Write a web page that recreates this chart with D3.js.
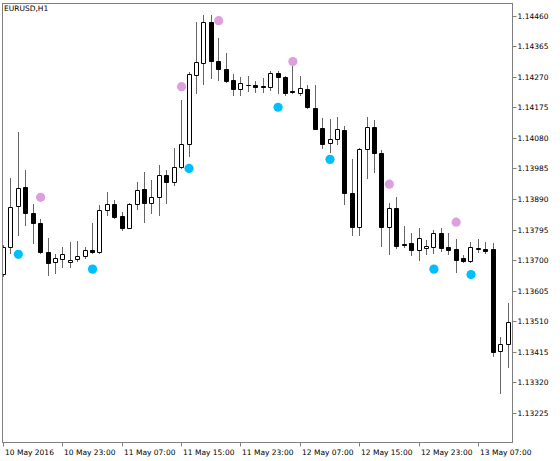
<!DOCTYPE html>
<html><head><meta charset="utf-8">
<script src="https://cdn.jsdelivr.net/npm/d3@7"></script>
<style>html,body{margin:0;padding:0;background:#fff}svg{display:block}</style>
</head><body><svg id="c" width="560" height="461"></svg>
<script>
const chartTitle = "EURUSD,H1";
const openP = [1.13657,1.13740,1.13868,1.13927,1.13847,1.13815,1.13726,1.13693,1.13702,1.13693,1.13702,1.13713,1.13731,1.13726,1.13856,1.13874,1.13837,1.13801,1.13873,1.13920,1.13878,1.13895,1.13964,1.13944,1.13990,1.14060,1.14275,1.14311,1.14439,1.14320,1.14293,1.14260,1.14231,1.14243,1.14244,1.14241,1.14239,1.14280,1.14268,1.14224,1.14220,1.14231,1.14173,1.14110,1.14063,1.14075,1.14104,1.13909,1.13804,1.14044,1.14113,1.14034,1.13804,1.13861,1.13750,1.13754,1.13730,1.13737,1.13742,1.13783,1.13740,1.13734,1.13706,1.13697,1.13739,1.13734,1.13734,1.13419,1.13439];
const highP = [1.13747,1.13955,1.14099,1.13980,1.13874,1.13828,1.13769,1.13719,1.13741,1.13757,1.13760,1.13741,1.13815,1.13871,1.13913,1.13887,1.13850,1.13878,1.13942,1.13975,1.13949,1.13996,1.13980,1.14047,1.14197,1.14285,1.14441,1.14462,1.14462,1.14389,1.14343,1.14278,1.14268,1.14272,1.14256,1.14265,1.14288,1.14289,1.14272,1.14306,1.14272,1.14244,1.14244,1.14141,1.14138,1.14144,1.14117,1.14014,1.14049,1.14146,1.14135,1.14042,1.13878,1.13897,1.13806,1.13783,1.13801,1.13762,1.13794,1.13799,1.13783,1.13765,1.13716,1.13757,1.13765,1.13757,1.13754,1.13460,1.13566];
const lowP = [1.13651,1.13722,1.13778,1.13809,1.13753,1.13723,1.13654,1.13660,1.13680,1.13680,1.13697,1.13707,1.13723,1.13723,1.13840,1.13831,1.13794,1.13799,1.13858,1.13819,1.13845,1.13840,1.13877,1.13933,1.13985,1.14023,1.14218,1.14247,1.14265,1.14260,1.14254,1.14213,1.14213,1.14225,1.14223,1.14223,1.14228,1.14218,1.14213,1.14220,1.14213,1.14173,1.14106,1.14047,1.14037,1.14061,1.13874,1.13778,1.13778,1.13954,1.13975,1.13745,1.13719,1.13737,1.13742,1.13716,1.13700,1.13719,1.13723,1.13729,1.13719,1.13664,1.13695,1.13695,1.13726,1.13723,1.13402,1.13286,1.13367];
const closeP = [1.13740,1.13866,1.13924,1.13846,1.13816,1.13726,1.13690,1.13706,1.13719,1.13700,1.13714,1.13731,1.13725,1.13856,1.13874,1.13833,1.13799,1.13874,1.13918,1.13878,1.13895,1.13964,1.13944,1.13990,1.14060,1.14278,1.14315,1.14439,1.14320,1.14293,1.14257,1.14231,1.14251,1.14244,1.14237,1.14237,1.14280,1.14268,1.14220,1.14222,1.14234,1.14176,1.14107,1.14061,1.14076,1.14106,1.13909,1.13804,1.14045,1.14113,1.14034,1.13804,1.13861,1.13745,1.13747,1.13730,1.13768,1.13745,1.13785,1.13737,1.13731,1.13700,1.13698,1.13740,1.13734,1.13728,1.13415,1.13439,1.13509];
const blueIdx = [2,12,25,37,44,58,63];
const blueVal = [1.13718,1.13672,1.13985,1.14175,1.14013,1.13672,1.13655];
const pinkIdx = [5,24,29,39,52,61];
const pinkVal = [1.13895,1.14239,1.14444,1.14317,1.13936,1.13818];
const priceTicks = [1.14460,1.14365,1.14270,1.14175,1.14080,1.13985,1.13890,1.13795,1.13700,1.13605,1.13510,1.13415,1.13320,1.13225];
const timeTickLabels = ["10 May 2016","10 May 23:00","11 May 07:00","11 May 15:00","11 May 23:00","12 May 07:00","12 May 15:00","12 May 23:00","13 May 07:00"];
const timeTickIdx = [0,8,16,24,32,40,48,56,64];

const L = 2, R = 512, T = 3, B = 442;
const FONT = "DejaVu Sans";
const FS = 7.5;
const svg = d3.select("#c");
const n = openP.length;
const x = d3.scaleLinear().domain([0, n - 1]).range([3, 507.6]);
const y = d3.scaleLinear().domain([1.13225, 1.14460]).range([413, 15.5]);

svg.append("defs").append("clipPath").attr("id","pc")
  .append("rect").attr("x", L).attr("y", T).attr("width", R - L).attr("height", B - T);

const plot = svg.append("g").attr("clip-path","url(#pc)");
const idx = d3.range(n);
const cx = i => Math.round(x(i));

plot.selectAll("line.wick").data(idx).join("line").attr("class","wick")
  .attr("x1", i => cx(i) + 0.5).attr("x2", i => cx(i) + 0.5)
  .attr("y1", i => Math.round(y(highP[i]))).attr("y2", i => Math.round(y(lowP[i])) + 1)
  .attr("stroke", "#666").attr("stroke-width", 1);

plot.selectAll("path.body").data(idx).join("path").attr("class","body")
  .attr("d", i => {
    const t = Math.round(y(Math.max(openP[i], closeP[i]))) + 0.5;
    const b = Math.round(y(Math.min(openP[i], closeP[i]))) + 0.5;
    const x0 = cx(i) - 1.5, x1 = cx(i) + 2.5;
    return `M${x0},${t}H${x1}V${b}H${x0}Z`;
  })
  .attr("fill", i => closeP[i] >= openP[i] ? "#fff" : "#000")
  .attr("stroke", "#000").attr("stroke-width", 1);

plot.selectAll("circle.blue").data(blueIdx).join("circle").attr("class","blue")
  .attr("cx", (d, k) => x(d) + 0.5).attr("cy", (d, k) => y(blueVal[k]))
  .attr("r", 4.6).attr("fill", "#00bfff");
plot.selectAll("circle.pink").data(pinkIdx).join("circle").attr("class","pink")
  .attr("cx", (d, k) => x(d) + 0.5).attr("cy", (d, k) => y(pinkVal[k]))
  .attr("r", 4.6).attr("fill", "#dda0dd");

// frame
svg.append("rect").attr("x", L + 0.5).attr("y", T + 0.5).attr("width", R - L).attr("height", B - T)
  .attr("fill", "none").attr("stroke", "#808080").attr("stroke-width", 1);

// right price axis
const ya = svg.append("g").attr("transform", `translate(${R + 0.5},0)`)
  .call(d3.axisRight(y).tickValues(priceTicks).tickSize(4).tickPadding(1).tickFormat(d3.format(".5f")));
ya.select(".domain").remove();
ya.selectAll(".tick line").attr("stroke", "#808080");
ya.selectAll(".tick").attr("transform", d => `translate(0,${Math.round(y(d)) + 0.5})`);
ya.selectAll("text").attr("font-family", FONT).attr("font-size", FS).attr("fill", "#000");

// bottom time axis
const xa = svg.append("g");
const xt = xa.selectAll("g").data(timeTickIdx).join("g")
  .attr("transform", d => `translate(${cx(d) + 0.5},${B + 0.5})`);
xt.append("line").attr("y1", 0).attr("y2", 4).attr("stroke", "#808080");
xt.append("text").text((d, k) => timeTickLabels[k]).attr("x", 1.5).attr("y", 12.5)
  .attr("font-family", FONT).attr("font-size", FS).attr("fill", "#000");

svg.append("text").text(chartTitle).attr("x", 4).attr("y", 11)
  .attr("font-family", FONT).attr("font-size", FS).attr("fill", "#000");
</script></body></html>
